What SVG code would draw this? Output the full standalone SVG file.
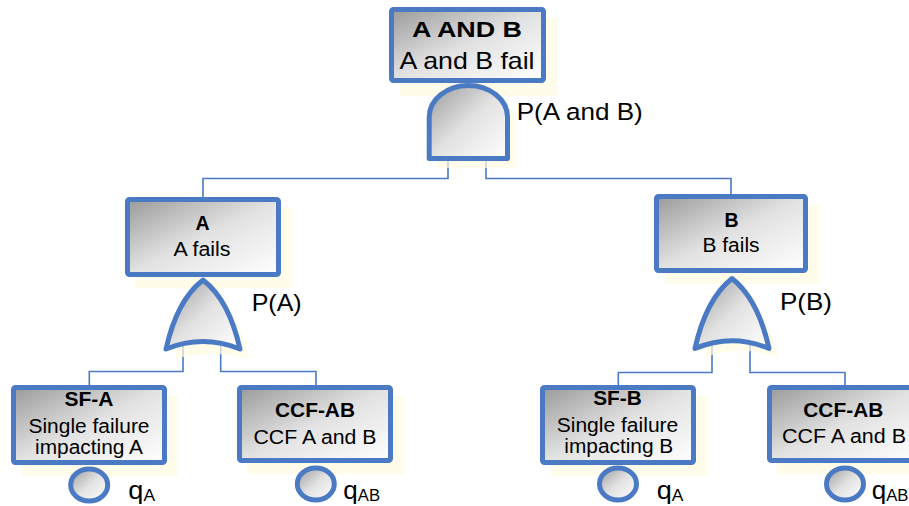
<svg xmlns="http://www.w3.org/2000/svg" width="909" height="506" viewBox="0 0 909 506">
<defs>
<linearGradient id="g" x1="0" y1="0" x2="1" y2="1">
<stop offset="0" stop-color="#9a9a9a"/>
<stop offset="0.5" stop-color="#e2e2e2"/>
<stop offset="1" stop-color="#ffffff"/>
</linearGradient>
<style>
.box,.gate,.circ{fill:url(#g);stroke:#4a7ac4;stroke-width:5;stroke-linejoin:round}
.sh{fill:#fffbe0;opacity:0.7}
.con{fill:none;stroke:#4a7ac4;stroke-width:1.6}
text{font-family:"Liberation Sans",Arial,sans-serif;fill:#000}
.c{text-anchor:middle}
.b{font-weight:bold}
.s18{font-size:19.5px}
</style>
</defs>
<rect width="909" height="506" fill="#fff"/>

<g id="connectors">
<path class="con" d="M448,160 V178.5 H203 V198"/>
<path class="con" d="M486,160 V178.5 H731 V195"/>
<path class="con" d="M183,345 V371.5 H89.3 V386"/>
<path class="con" d="M220.7,345 V371.5 H316 V386"/>
<path class="con" d="M712,345 V372.5 H618.3 V386"/>
<path class="con" d="M750,345 V372.5 H845 V386"/>
</g>

<g id="top">
<rect class="sh" x="400" y="18" width="157" height="78"/>
<path class="sh" d="M437,168 V125 A39,31 0 0 1 516,125 V168 Z"/>
<rect class="box" x="391.5" y="9.5" width="152" height="71" rx="2"/>
<path class="gate" d="M429.2,158.5 V117 A39.15,31.5 0 0 1 507.5,117 V158.5 Z"/>
<text class="c b" x="467" y="36.5" font-size="22" textLength="110" lengthAdjust="spacingAndGlyphs">A AND B</text>
<text class="c" x="467" y="69" font-size="24" textLength="135" lengthAdjust="spacingAndGlyphs">A and B fail</text>
<text x="516.7" y="120" font-size="24.5" textLength="126" lengthAdjust="spacingAndGlyphs">P(A and B)</text>
</g>

<g id="A">
<rect class="sh" x="136" y="208" width="156" height="80"/>
<path class="sh" d="M211,290 Q185,310 175,359 Q211,349 249,359 Q238,310 211,290 Z"/>
<rect class="box" x="127.5" y="199.5" width="151" height="75" rx="2"/>
<path class="gate" d="M203,280 Q177,300 166,349 Q203,334 240,349 Q229,300 203,280 Z"/>
<text class="c b s18" x="202.5" y="230">A</text>
<text class="c s18" x="202" y="256" textLength="57" lengthAdjust="spacingAndGlyphs">A fails</text>
<text x="251.7" y="310.7" font-size="24.5" textLength="50" lengthAdjust="spacingAndGlyphs">P(A)</text>
</g>

<g id="B">
<rect class="sh" x="665" y="205" width="154" height="79"/>
<path class="sh" d="M741,288 Q715,308 704,358 Q741,343 778,358 Q767,308 741,288 Z"/>
<rect class="box" x="656.5" y="196.5" width="149" height="74" rx="2"/>
<path class="gate" d="M732,278.5 Q706,299 695,348.5 Q732,333 769,348.5 Q758,299 732,278.5 Z"/>
<text class="c b s18" x="731.5" y="227">B</text>
<text class="c s18" x="731" y="252" textLength="57" lengthAdjust="spacingAndGlyphs">B fails</text>
<text x="780" y="310" font-size="24.5" textLength="52" lengthAdjust="spacingAndGlyphs">P(B)</text>
</g>

<g id="SF-A">
<rect class="sh" x="22" y="396" width="156" height="80"/>
<rect class="box" x="13.5" y="387.5" width="151" height="75" rx="2"/>
<ellipse class="circ" cx="89.2" cy="485" rx="18.5" ry="16"/>
<text class="c b s18" x="89" y="406" textLength="49" lengthAdjust="spacingAndGlyphs">SF-A</text>
<text class="c s18" x="89" y="432.7" textLength="121" lengthAdjust="spacingAndGlyphs">Single failure</text>
<text class="c s18" x="89" y="454" textLength="108" lengthAdjust="spacingAndGlyphs">impacting A</text>
<text x="128.3" y="499" font-size="25" textLength="26.7" lengthAdjust="spacingAndGlyphs">q<tspan font-size="16" dy="1.5">A</tspan></text>
</g>

<g id="CCF-AB-1">
<rect class="sh" x="248" y="396" width="156" height="78"/>
<rect class="box" x="239.5" y="387.5" width="151" height="73" rx="2"/>
<ellipse class="circ" cx="315.8" cy="484" rx="18.5" ry="16"/>
<text class="c b s18" x="315" y="416.7" textLength="80" lengthAdjust="spacingAndGlyphs">CCF-AB</text>
<text class="c s18" x="315" y="444" textLength="123" lengthAdjust="spacingAndGlyphs">CCF A and B</text>
<text x="343.3" y="499" font-size="25" textLength="36.7" lengthAdjust="spacingAndGlyphs">q<tspan font-size="16" dy="1.5">AB</tspan></text>
</g>

<g id="SF-B">
<rect class="sh" x="551" y="396" width="156" height="80"/>
<rect class="box" x="542.5" y="387.5" width="151" height="75" rx="2"/>
<ellipse class="circ" cx="618" cy="484" rx="18.5" ry="16"/>
<text class="c b s18" x="617.5" y="405" textLength="48.5" lengthAdjust="spacingAndGlyphs">SF-B</text>
<text class="c s18" x="617.5" y="431.7" textLength="121.6" lengthAdjust="spacingAndGlyphs">Single failure</text>
<text class="c s18" x="618.8" y="453" textLength="109" lengthAdjust="spacingAndGlyphs">impacting B</text>
<text x="656.7" y="499" font-size="25" textLength="26.7" lengthAdjust="spacingAndGlyphs">q<tspan font-size="16" dy="1.5">A</tspan></text>
</g>

<g id="CCF-AB-2">
<rect class="sh" x="778" y="396" width="156" height="78"/>
<rect class="box" x="769.5" y="387.5" width="151" height="73" rx="2"/>
<ellipse class="circ" cx="845" cy="484" rx="18.5" ry="16"/>
<text class="c b s18" x="843.3" y="416.7" textLength="80" lengthAdjust="spacingAndGlyphs">CCF-AB</text>
<text class="c s18" x="844" y="443" textLength="124" lengthAdjust="spacingAndGlyphs">CCF A and B</text>
<text x="871.7" y="499" font-size="25" textLength="36.7" lengthAdjust="spacingAndGlyphs">q<tspan font-size="16" dy="1.5">AB</tspan></text>
</g>
</svg>
